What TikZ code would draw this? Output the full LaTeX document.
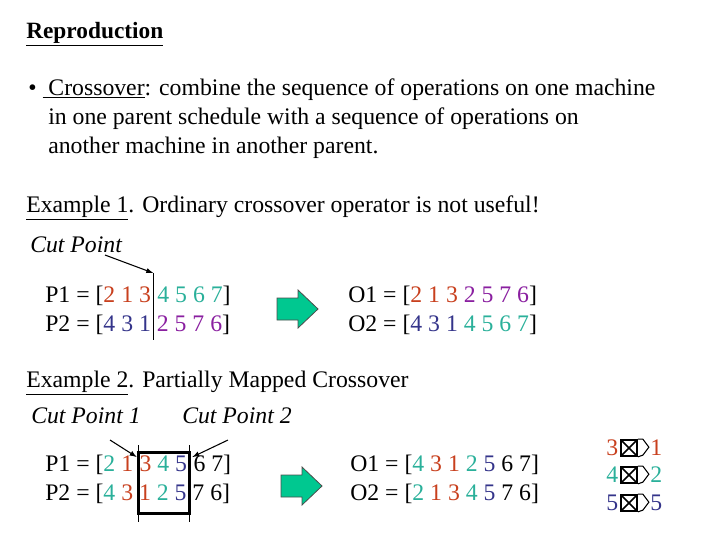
\documentclass[tikz,border=0pt]{standalone}
\usepackage{fontspec}
\setmainfont{Liberation Serif}
\definecolor{cr}{HTML}{C8401E}
\definecolor{ct}{HTML}{2AB09A}
\definecolor{cp}{HTML}{8A1FA0}
\definecolor{cn}{HTML}{34348A}
\definecolor{gr}{HTML}{00C890}
\newcommand{\R}[1]{\textcolor{cr}{#1}}
\newcommand{\T}[1]{\textcolor{ct}{#1}}
\newcommand{\Pu}[1]{\textcolor{cp}{#1}}
\newcommand{\N}[1]{\textcolor{cn}{#1}}
\begin{document}
\begin{tikzpicture}[x=0.75pt,y=-0.75pt,
  txt/.style={anchor=base west,inner sep=0pt,font=\fontsize{17.8}{20}\selectfont},
  ital/.style={txt,font=\fontsize{17.8}{20}\selectfont\itshape},
  garrow/.style={draw=black!70,fill=gr,line width=0.6pt},
  ptr/.style={-latex,thick},
  cut/.style={line width=0.6pt},
  xbox/.style={draw,line width=1.3pt,minimum width=12pt,minimum height=12pt,inner sep=0pt}]
\useasboundingbox (0,0) rectangle (720,540);
\node[txt,font=\fontsize{17.5}{20}\selectfont\bfseries] (title) at (26,38) {\underline{Reproduction}};
\node[txt] (b1) at (28,95) {•\ \underline{\ Crossover}: combine the sequence of operations on one machine};
\node[txt] (b2) at (48,124) {in one parent schedule with a sequence of operations on};
\node[txt] (b3) at (48,153) {another machine in another parent.};
\node[txt] (ex1) at (26,212) {\underline{Example 1}. Ordinary crossover operator is not useful!};
\node[ital] (cp) at (30,252) {Cut Point};
\node[txt] (p1a) at (45,302) {P1 = [\R{2 1 3}};
\node[txt] (p1b) at (p1a.base east) {\ \T{4 5 6 7}]};
\node[txt] (p2) at (45,331) {P2 = [\N{4 3 1} \Pu{2 5 7 6}]};
\coordinate (ct) at ([xshift=1.5pt]p1a.east |- 0,273);
\coordinate (cb) at ([xshift=1.5pt]p1a.east |- 0,340);
\draw[cut] (ct) -- (cb);
\coordinate (cps) at (105,255);
\draw[ptr] (cps) -- (ct);
\draw[garrow] (277,298) -- (298,298) -- (298,290) -- (318,309) -- (298,328) -- (298,320) -- (277,320) -- cycle;
\node[txt] (o1) at (348,302) {O1 = [\R{2 1 3} \Pu{2 5 7 6}]};
\node[txt] (o2) at (348,331) {O2 = [\N{4 3 1} \T{4 5 6 7}]};
\node[txt] (ex2) at (26,387) {\underline{Example 2}. Partially Mapped Crossover};
\node[ital] (c1) at (31,423) {Cut Point 1};
\node[ital] (c2) at (182,423) {Cut Point 2};
\node[txt] (q1a) at (45,471) {P1 = [\T{2} \R{1}\hbox{\ }};
\node[txt] (q1b) at (q1a.base east) {\R{3} \T{4} \N{5}};
\node[txt] (q1c) at (q1b.base east) {\ 6 7]};
\node[txt] (q2) at (45,500) {P2 = [\T{4} \R{3} \R{1} \T{2} \N{5} 7 6]};
\coordinate (l1t) at ([xshift=-0.5pt]q1b.west |- 0,445); \coordinate (l1b) at ([xshift=-0.5pt]q1b.west |- 0,522);
\coordinate (l2t) at ([xshift=1.5pt]q1b.east |- 0,445); \coordinate (l2b) at ([xshift=1.5pt]q1b.east |- 0,522);
\draw[cut] (l1t) -- (l1b); \draw[cut] (l2t) -- (l2b);
\draw[line width=2pt] ([yshift=-5.5pt]l1t) rectangle ([yshift=6.5pt]l2b);
\coordinate (a1s) at (110,440); \coordinate (a1e) at ([shift={(-2,12)}]l1t);
\coordinate (a2s) at (228,440); \coordinate (a2e) at ([shift={(3,12)}]l2t);
\draw[ptr] (a1s) -- (a1e); \draw[ptr] (a2s) -- (a2e);
\draw[garrow] (281,475) -- (302,475) -- (302,467) -- (322,486) -- (302,505) -- (302,497) -- (281,497) -- cycle;
\node[txt] (r1) at (350,471) {O1 = [\T{4} \R{3} \R{1} \T{2} \N{5} 6 7]};
\node[txt] (r2) at (350,500) {O2 = [\T{2} \R{1} \R{3} \T{4} \N{5} 7 6]};
\foreach \y/\a/\b/\ca/\cb [count=\i] in {455/3/1/cr/cr, 482/4/2/ct/ct, 510/5/5/cn/cn}{
  \node[txt,text=\ca] (la\i) at (606,\y) {\a};
  \node[xbox] (xb\i) at (629,\y-7) {};
  \draw[line width=1.3pt] ([shift={(2,2)}]xb\i.north west) -- ([shift={(-2,-2)}]xb\i.south east) ([shift={(2,-2)}]xb\i.south west) -- ([shift={(-2,2)}]xb\i.north east);
  \draw[thick] (xb\i.north east) -- ++(5,0) -- ++(6,8) -- ++(-6,8) -- (xb\i.south east);
  \node[txt,text=\cb] (lb\i) at (650,\y) {\b};
}
\end{tikzpicture}
\end{document}
